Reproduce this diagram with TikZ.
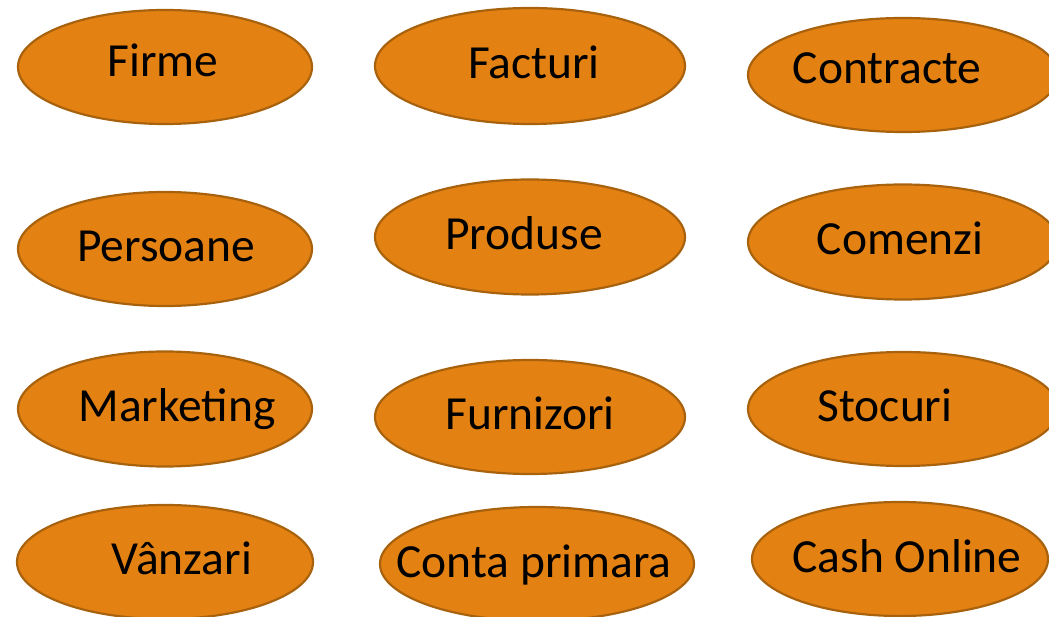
\documentclass[tikz,border=0pt]{standalone}
\usepackage{fontspec}
\setmainfont{Carlito}
\usetikzlibrary{shapes.geometric}
\definecolor{ovfill}{HTML}{E38212}
\definecolor{ovline}{HTML}{A8620E}
\tikzset{
  oval/.style={ellipse, draw=ovline, fill=ovfill, line width=2.2pt, inner sep=0pt},
  lbl/.style={anchor=base, inner sep=0pt, font=\fontsize{47.5}{52}\selectfont, text=black}
}
\begin{document}
\begin{tikzpicture}[x=1pt,y=1pt]
\useasboundingbox (0,0) rectangle (1049,616);
% row 1
\node[oval, minimum width=294pt, minimum height=114pt] (e1) at (165,549) {};
\node[oval, minimum width=310pt, minimum height=116pt] (e2) at (530,550) {};
\node[oval, minimum width=310pt, minimum height=114pt] (e3) at (903,541) {};
% row 2
\node[oval, minimum width=294pt, minimum height=114pt] (e4) at (165,367) {};
\node[oval, minimum width=310pt, minimum height=115pt] (e5) at (530,379) {};
\node[oval, minimum width=310pt, minimum height=115pt] (e6) at (903,374) {};
% row 3
\node[oval, minimum width=294pt, minimum height=115pt] (e7) at (165,207) {};
\node[oval, minimum width=310pt, minimum height=114pt] (e8) at (530,199) {};
\node[oval, minimum width=310pt, minimum height=114pt] (e9) at (903,207) {};
% row 4
\node[oval, minimum width=296pt, minimum height=114pt] (e10) at (165,54) {};
\node[oval, minimum width=314pt, minimum height=114pt] (e11) at (537,52) {};
\node[oval, minimum width=296pt, minimum height=114pt] (e12) at (900,57) {};
% labels
\node[lbl] (t1) at (163,539) {Firme};
\node[lbl] (t2) at (534,537) {Facturi};
\node[lbl] (t3) at (887,532) {Contracte};
\node[lbl] (t4) at (166,354) {Persoane};
\node[lbl] (t5) at (524,366) {Produse};
\node[lbl] (t6) at (900,361) {Comenzi};
\node[lbl] (t7) at (177,194) {Marketing};
\node[lbl] (t8) at (530,186) {Furnizori};
\node[lbl] (t9) at (885,194) {Stocuri};
\node[lbl] (t10) at (182,42) {Vânzari};
\node[lbl] (t11) at (534,39) {Conta primara};
\node[lbl] (t12) at (907,44) {Cash Online};
\end{tikzpicture}
\end{document}
